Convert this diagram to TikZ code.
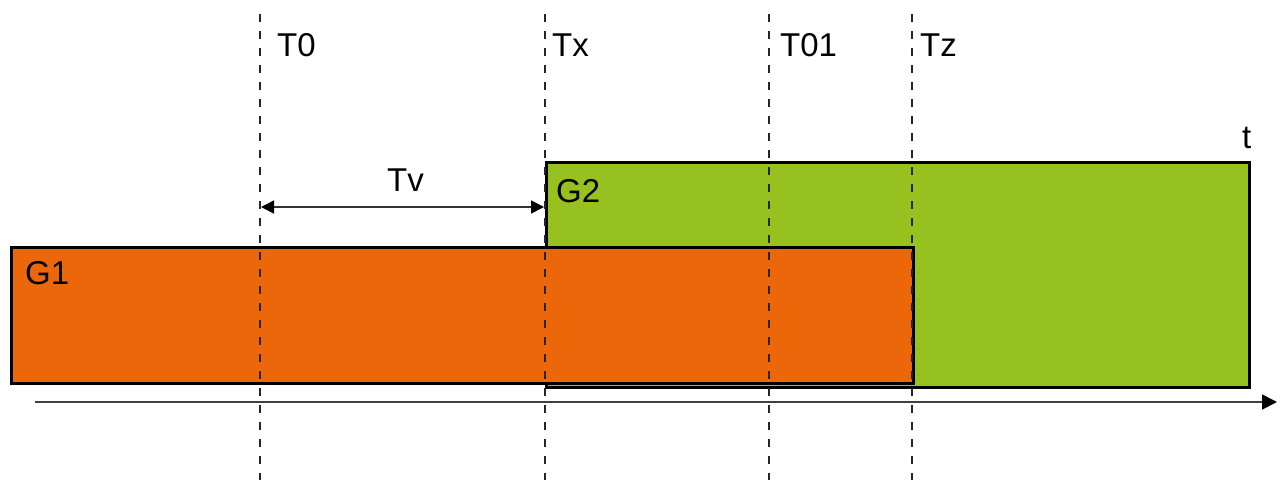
\documentclass[tikz,border=0pt]{standalone}
\usepackage{fontspec}
\setmainfont{Liberation Sans}
\usetikzlibrary{arrows.meta}
\definecolor{gorange}{RGB}{235,103,10}
\definecolor{ggreen}{RGB}{150,193,31}
\begin{document}
\begin{tikzpicture}[x=1pt,y=-1pt,
  lbl/.style={anchor=base west,inner sep=0pt,font=\fontsize{33}{36}\selectfont},
  bar/.style={draw=black,line width=3pt,inner sep=0pt,anchor=north west},
  marker/.style={draw=black!85,line width=1.2pt,dash pattern=on 8pt off 9pt},
  axis/.style={draw=black!75,line width=1.8pt,-{Triangle[length=15pt,width=15pt,black]}},
  span/.style={draw=black!80,line width=1.5pt,{Triangle[length=13pt,width=13pt,black]}-{Triangle[length=13pt,width=13pt,black]}}]
\useasboundingbox (0,0) rectangle (1283,480);

% the two bars: G2 behind, G1 in front
\node[bar,fill=ggreen,minimum width=703pt,minimum height=225pt] (G2) at (545,161) {};
\node[bar,fill=gorange,minimum width=902pt,minimum height=136pt] (G1) at (10,246) {};

% time markers
\foreach \n/\x in {m0/260,mx/545,m01/769,mz/912}{
  \coordinate (\n top) at (\x,14);
  \coordinate (\n bot) at (\x,480);
  \draw[marker] (\n top) -- (\n bot);
}

% time axis
\coordinate (ax0) at (35,402);
\coordinate (ax1) at (1277,402);
\draw[axis] (ax0) -- (ax1);

% Tv interval
\coordinate (tvL) at (261,207);
\coordinate (tvR) at (544,207);
\draw[span] (tvL) -- (tvR);

% labels
\node[lbl] (lT0) at (277,56) {T0};
\node[lbl] (lTx) at (552,56) {Tx};
\node[lbl] (lT01) at (780,56) {T01};
\node[lbl] (lTz) at (920,56) {Tz};
\node[lbl] (lTv) at (387,191) {Tv};
\node[lbl] (lt) at (1242,148) {t};
\node[lbl] (lG2) at (556,202) {G2};
\node[lbl] (lG1) at (25,284) {G1};
\end{tikzpicture}
\end{document}
